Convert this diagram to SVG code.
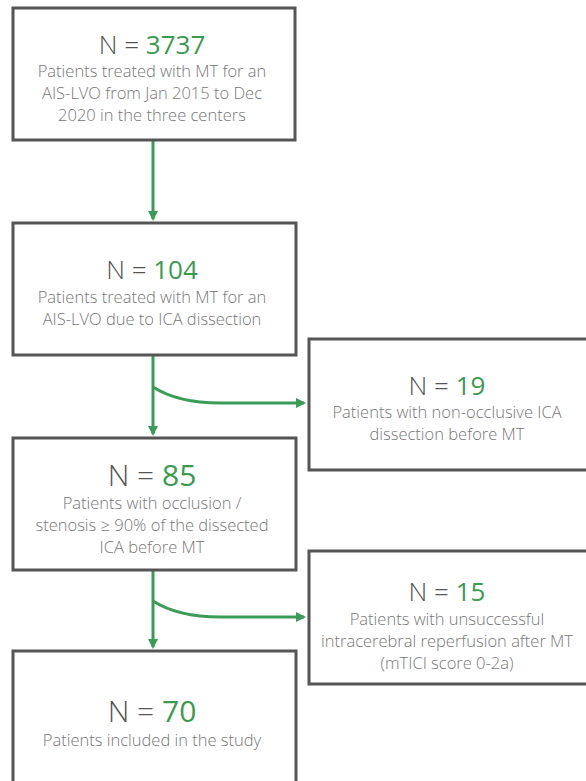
<svg xmlns="http://www.w3.org/2000/svg" width="586" height="781" viewBox="0 0 586 781">
<style>
.box{fill:#fff;stroke:#555;stroke-width:3}
.n{font-family:"Open Sans","Liberation Sans",sans-serif;font-size:26px;fill:#555;font-weight:300;text-anchor:middle}
.g{fill:#3a9a4e;font-weight:400}
.t{font-family:"Open Sans","Liberation Sans",sans-serif;font-size:16.5px;fill:#777;font-weight:300;text-anchor:middle}
.c{fill:none;stroke:#3a9c57;stroke-width:3}
</style>
<defs>
<marker id="ah" markerWidth="10" markerHeight="10" refX="8" refY="5" orient="auto" markerUnits="userSpaceOnUse" viewBox="0 0 10 10">
<path d="M0,0 L10,5 L0,10 Z" fill="#3a9c57"/>
</marker>
</defs>
<rect width="586" height="781" fill="#fff"/>
<g id="connectors">
<line class="c" x1="153" y1="141" x2="153" y2="219" marker-end="url(#ah)"/>
<line class="c" x1="153" y1="356" x2="153" y2="434" marker-end="url(#ah)"/>
<path class="c" d="M153,387 Q178,403 220,403 L304,403" marker-end="url(#ah)"/>
<line class="c" x1="153" y1="571" x2="153" y2="647" marker-end="url(#ah)"/>
<path class="c" d="M153,601 Q178,617 220,617 L304,617" marker-end="url(#ah)"/>
</g>
<g id="n1">
<rect class="box" x="13" y="8" width="282" height="132"/>
<text class="n" x="152" y="54">N = <tspan class="g">3737</tspan></text>
<text class="t" x="152" y="77">Patients treated with MT for an</text>
<text class="t" x="152" y="99">AIS-LVO from Jan 2015 to Dec</text>
<text class="t" x="152" y="121">2020 in the three centers</text>
</g>
<g id="n2">
<rect class="box" x="13" y="223" width="283" height="132"/>
<text class="n" x="152" y="279">N = <tspan class="g">104</tspan></text>
<text class="t" x="152" y="303">Patients treated with MT for an</text>
<text class="t" x="152" y="325">AIS-LVO due to ICA dissection</text>
</g>
<g id="n3">
<rect class="box" x="309" y="339" width="280" height="131"/>
<text class="n" x="447" y="395">N = <tspan class="g">19</tspan></text>
<text class="t" x="447" y="418">Patients with non-occlusive ICA</text>
<text class="t" x="447" y="440">dissection before MT</text>
</g>
<g id="n4">
<rect class="box" x="13" y="438" width="283" height="132"/>
<text class="n" x="152" y="486" style="font-size:30px">N = <tspan class="g">85</tspan></text>
<text class="t" x="152" y="509">Patients with occlusion /</text>
<text class="t" x="152" y="531">stenosis ≥ 90% of the dissected</text>
<text class="t" x="152" y="553">ICA before MT</text>
</g>
<g id="n5">
<rect class="box" x="309" y="551" width="280" height="133"/>
<text class="n" x="447" y="601">N = <tspan class="g">15</tspan></text>
<text class="t" x="447" y="625">Patients with unsuccessful</text>
<text class="t" x="447" y="647">intracerebral reperfusion after MT</text>
<text class="t" x="447" y="669">(mTICI score 0-2a)</text>
</g>
<g id="n6">
<rect class="box" x="13" y="651" width="283" height="140"/>
<text class="n" x="152" y="722" style="font-size:30px">N = <tspan class="g">70</tspan></text>
<text class="t" x="152" y="746">Patients included in the study</text>
</g>
</svg>
